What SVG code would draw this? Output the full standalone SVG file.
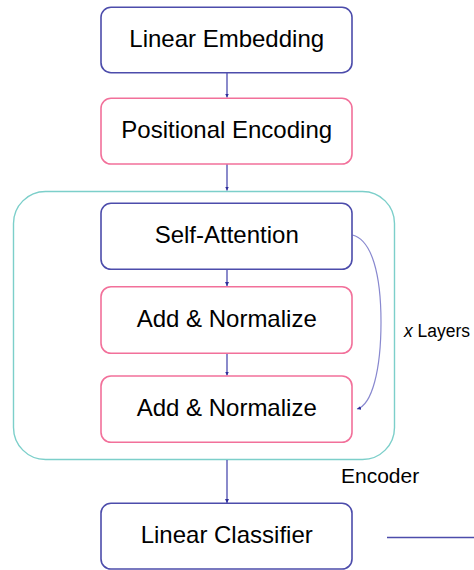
<svg xmlns="http://www.w3.org/2000/svg" width="474" height="570" viewBox="0 0 474 570">
<style>
.blue{fill:#fff;stroke:#4c4cab;stroke-width:1.6}
.pink{fill:#fff;stroke:#f2709a;stroke-width:1.6}
.enc{fill:none;stroke:#7ccfca;stroke-width:1.4}
.t{font-family:"Liberation Sans",Arial,sans-serif;font-size:24px;fill:#000;text-anchor:middle}
.lab{font-family:"Liberation Sans",Arial,sans-serif;fill:#000}
.c{stroke:#3d3da8;stroke-width:1.2;fill:none}
</style>
<defs>
<marker id="ah" viewBox="0 0 4 4" refX="4" refY="2" markerWidth="4" markerHeight="4" markerUnits="userSpaceOnUse" orient="auto">
<path d="M0,0 L4,2 L0,4 Z" fill="#2e2e9a"/>
</marker>
</defs>
<rect width="474" height="570" fill="#fff"/>
<g id="encoder">
<rect class="enc" x="13.5" y="191.5" width="381" height="268" rx="32"/>
<text class="lab" x="341" y="483" font-size="21">Encoder</text>
</g>
<g id="connectors">
<line class="c" x1="227" y1="73" x2="227" y2="97.5" marker-end="url(#ah)"/>
<line class="c" x1="227" y1="164" x2="227" y2="190.5" marker-end="url(#ah)"/>
<line class="c" x1="227" y1="269.5" x2="227" y2="286" marker-end="url(#ah)"/>
<line class="c" x1="227" y1="353.5" x2="227" y2="375.5" marker-end="url(#ah)"/>
<line class="c" x1="227" y1="460" x2="227" y2="503" marker-end="url(#ah)"/>
<path d="M352.5,235 C372,240 381,275 381,322 C381,370 372,405 357,409" fill="none" stroke="#8888cf" stroke-width="1.2" marker-end="url(#ah)"/>
<line x1="387" y1="537.5" x2="474" y2="537.5" stroke="#4c4cab" stroke-width="1.4"/>
</g>
<g id="linear-embedding">
<rect class="blue" x="101" y="7.3" width="251" height="65.4" rx="10"/>
<text class="t" x="226.7" y="46.5">Linear Embedding</text>
</g>
<g id="positional-encoding">
<rect class="pink" x="101" y="98.3" width="251" height="65.7" rx="10"/>
<text class="t" x="226.7" y="137.5">Positional Encoding</text>
</g>
<g id="self-attention">
<rect class="blue" x="101" y="203.3" width="251" height="66" rx="10"/>
<text class="t" x="226.7" y="242.5">Self-Attention</text>
</g>
<g id="add-normalize-1">
<rect class="pink" x="101" y="286.7" width="251" height="66.6" rx="10"/>
<text class="t" x="226.7" y="326.5">Add &amp; Normalize</text>
</g>
<g id="add-normalize-2">
<rect class="pink" x="101" y="376" width="251" height="66.3" rx="10"/>
<text class="t" x="226.7" y="415.5">Add &amp; Normalize</text>
</g>
<g id="x-layers">
<text class="lab" x="404" y="337" font-size="18" textLength="66" lengthAdjust="spacingAndGlyphs"><tspan font-style="italic">x</tspan> Layers</text>
</g>
<g id="linear-classifier">
<rect class="blue" x="101" y="503.3" width="251" height="65.7" rx="10"/>
<text class="t" x="226.7" y="542.5">Linear Classifier</text>
</g>
</svg>
